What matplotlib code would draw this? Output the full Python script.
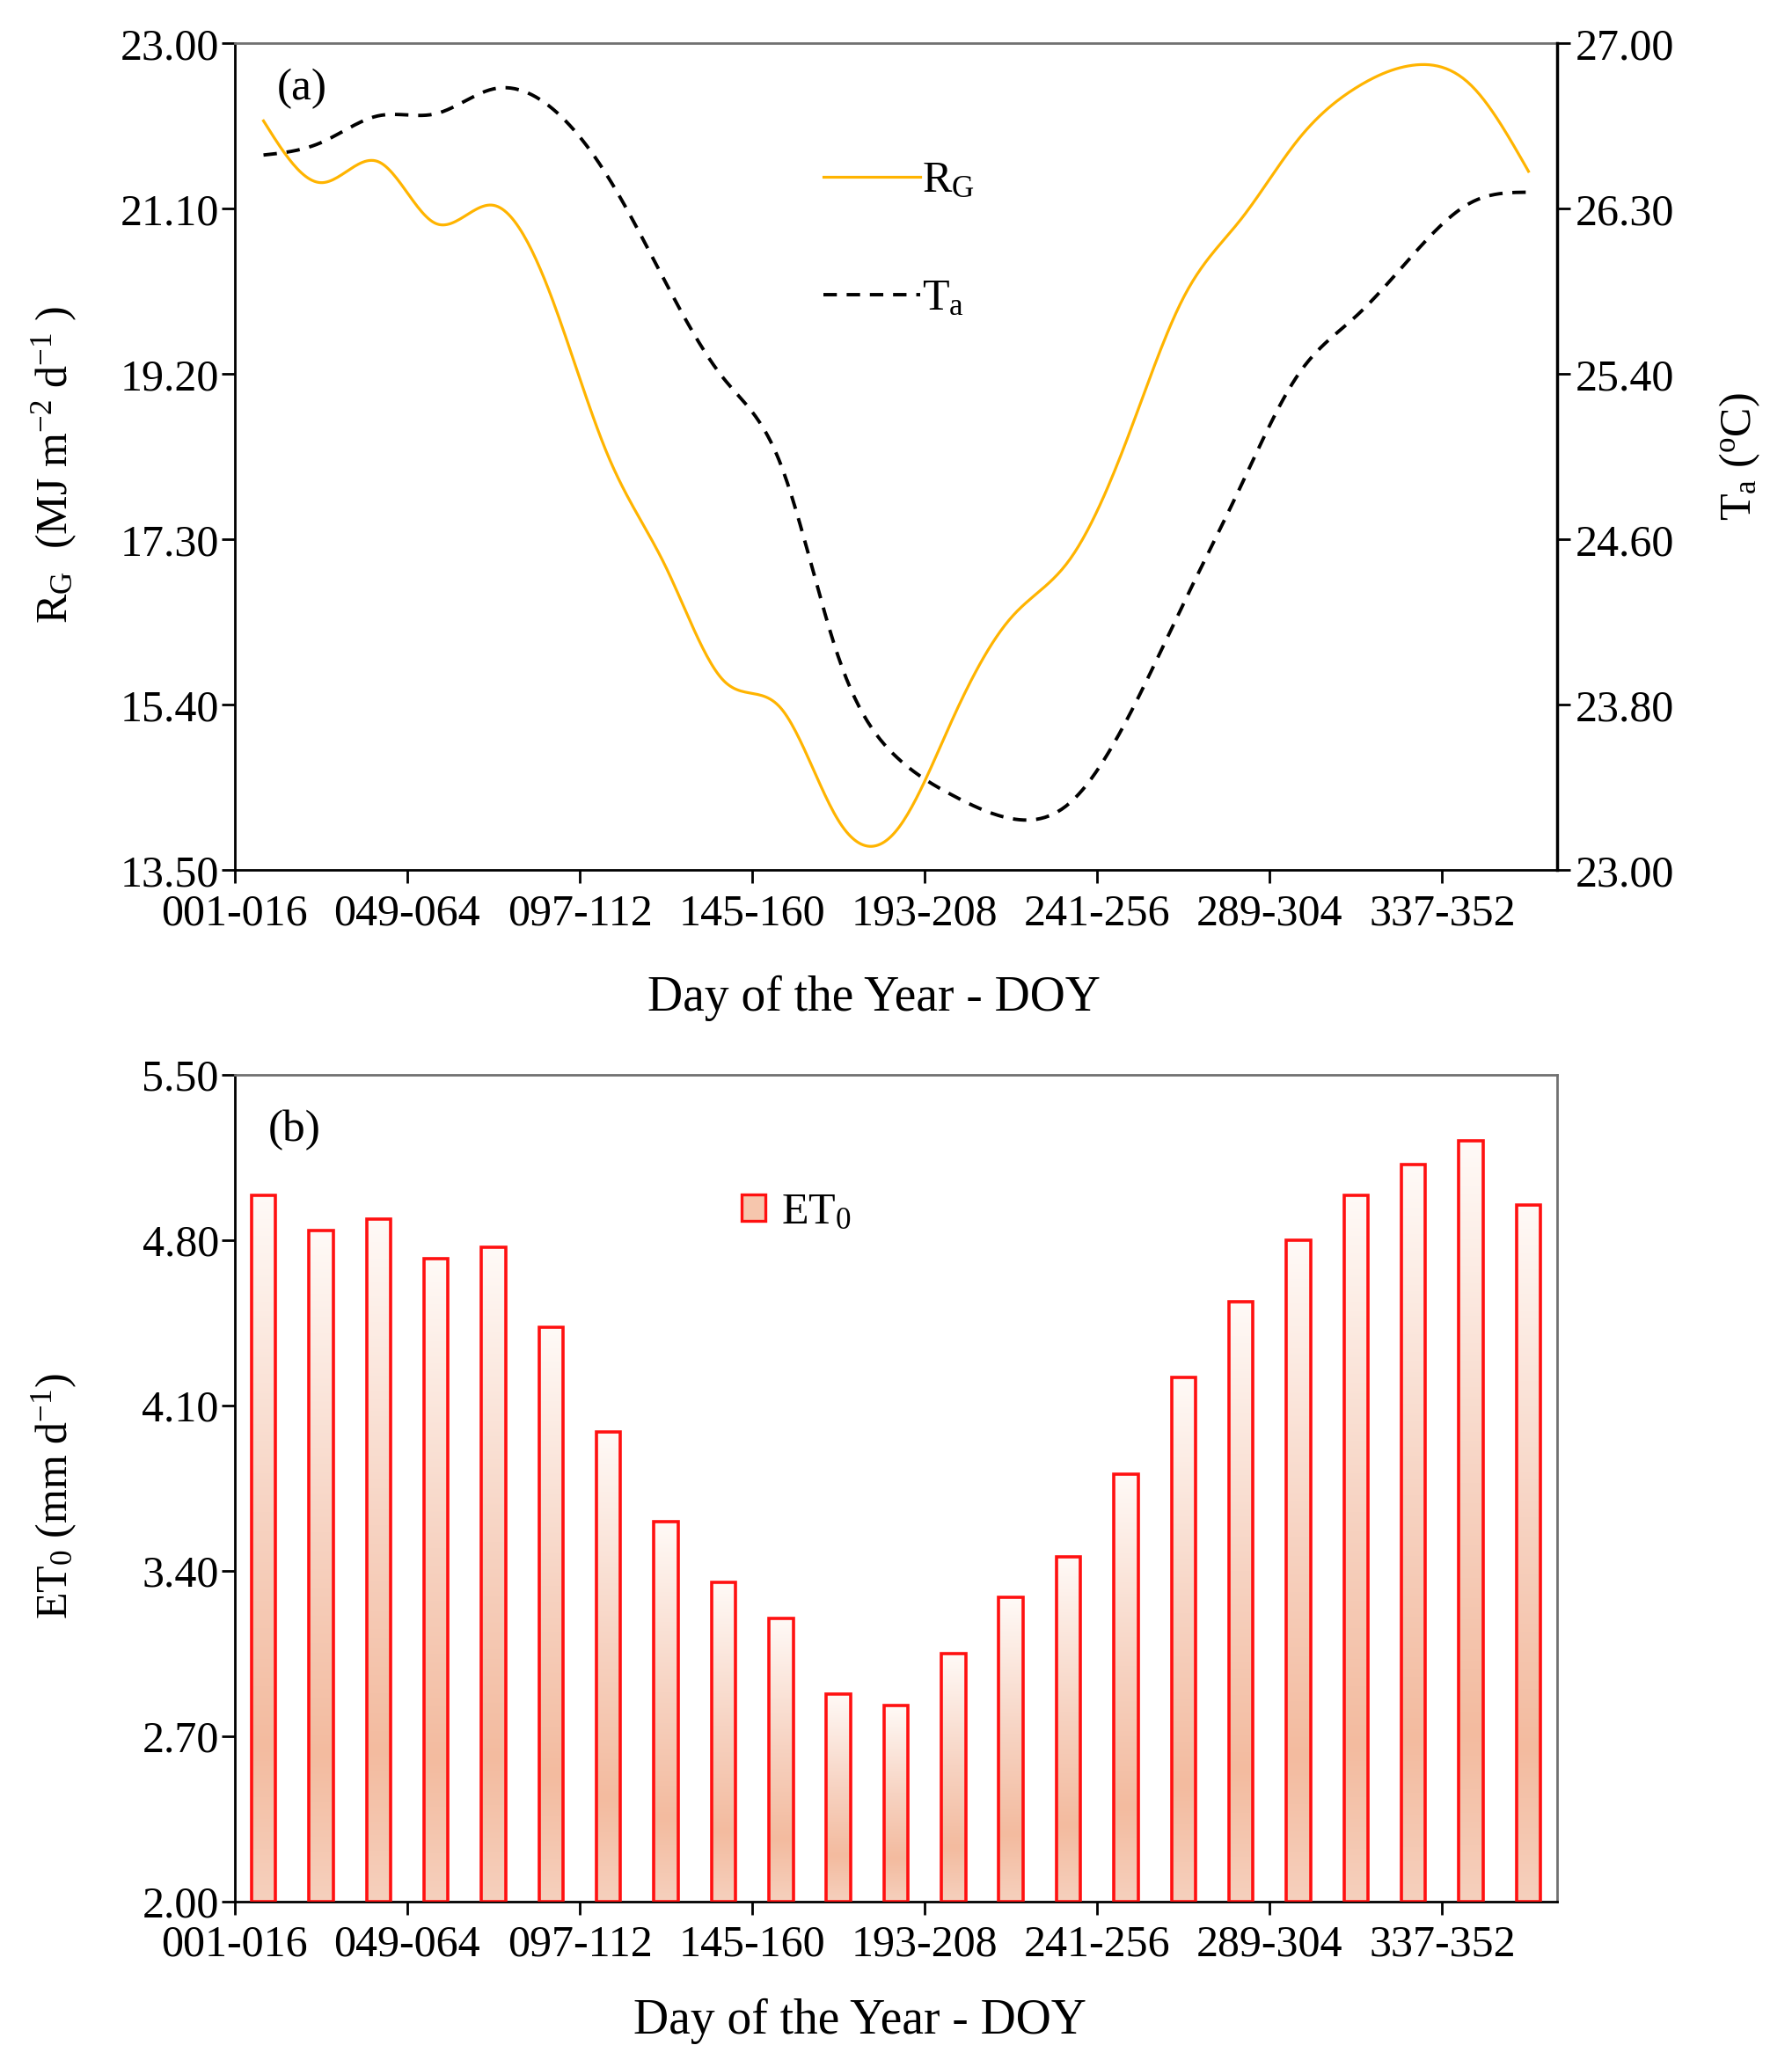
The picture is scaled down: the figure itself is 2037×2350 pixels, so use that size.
import numpy as np
import matplotlib
matplotlib.use("Agg")
import matplotlib.pyplot as plt
from matplotlib.colors import LinearSegmentedColormap
from matplotlib.lines import Line2D
from matplotlib.patches import Patch

plt.rcParams['font.family'] = 'Liberation Serif'
plt.rcParams['mathtext.fontset'] = 'custom'
plt.rcParams['mathtext.rm'] = 'Liberation Serif'
plt.rcParams['mathtext.it'] = 'Liberation Serif:italic'
plt.rcParams['lines.scale_dashes'] = False

# 16-day periods of the year
tick_labels = ['001-016', '049-064', '097-112', '145-160',
               '193-208', '241-256', '289-304', '337-352']

# global radiation (MJ m-2 d-1)
rg = [22.11, 21.40, 21.64, 20.93, 21.14, 20.10, 18.25, 16.98, 15.68, 15.36,
      14.07, 13.95, 15.26, 16.40, 17.05, 18.42, 20.08, 20.98, 21.90, 22.49,
      22.75, 22.52, 21.53]
# air temperature (C)
ta = [26.46, 26.52, 26.65, 26.66, 26.78, 26.69, 26.35, 25.84, 25.38, 24.96,
      24.03, 23.55, 23.36, 23.25, 23.32, 23.72, 24.29, 24.86, 25.40, 25.68,
      25.98, 26.23, 26.28]
# reference evapotranspiration (mm d-1)
et0 = [4.99, 4.84, 4.89, 4.72, 4.77, 4.43, 3.99, 3.61, 3.35, 3.20, 2.88,
       2.83, 3.05, 3.29, 3.46, 3.81, 4.22, 4.54, 4.80, 4.99, 5.12, 5.22, 4.95]

rg_ticks = [13.5, 15.4, 17.3, 19.2, 21.1, 23.0]
ta_ticks = [23.0, 23.8, 24.6, 25.4, 26.2, 27.0]
ta_tick_labels = ['23.00', '23.80', '24.60', '25.40', '26.30', '27.00']
et_ticks = [2.0, 2.7, 3.4, 4.1, 4.8, 5.5]

n = len(rg)
xpos = np.arange(n) + 0.5


def natural_spline(x, y, xs):
    x = np.asarray(x, float)
    y = np.asarray(y, float)
    m = len(x)
    h = np.diff(x)
    A = np.zeros((m, m))
    b = np.zeros(m)
    A[0, 0] = A[-1, -1] = 1.0
    for i in range(1, m - 1):
        A[i, i - 1] = h[i - 1]
        A[i, i] = 2 * (h[i - 1] + h[i])
        A[i, i + 1] = h[i]
        b[i] = 3 * ((y[i + 1] - y[i]) / h[i] - (y[i] - y[i - 1]) / h[i - 1])
    c = np.linalg.solve(A, b)
    bb = (y[1:] - y[:-1]) / h - h * (2 * c[:-1] + c[1:]) / 3
    d = (c[1:] - c[:-1]) / (3 * h)
    idx = np.clip(np.searchsorted(x, xs) - 1, 0, m - 2)
    dx = xs - x[idx]
    return y[idx] + bb[idx] * dx + c[idx] * dx**2 + d[idx] * dx**3


fs = 36
fig = plt.figure(figsize=(20.37, 23.5), dpi=100)

# ---------------- (a) ----------------
ax1 = fig.add_axes([0.131, 0.579, 0.738, 0.400])
ax2 = ax1.twinx()

xs = np.linspace(xpos[0], xpos[-1], 600)
ax1.plot(xs, natural_spline(xpos, rg, xs), color='#ffb400', lw=2.3)
ln_ta, = ax2.plot(xs, natural_spline(xpos, ta, xs), color='black', lw=2.8)
ln_ta.set_dashes((11, 8))

ax1.set_xlim(0, n)
ax1.set_ylim(13.5, 23.0)
ax2.set_ylim(23.0, 27.0)
ax1.set_yticks(rg_ticks)
ax1.set_yticklabels(['%.2f' % v for v in rg_ticks])
ax2.set_yticks(ta_ticks)
ax2.set_yticklabels(ta_tick_labels)

ax1.text(0.032, 0.945, '(a)', transform=ax1.transAxes, fontsize=37,
         ha='left', va='center')
ax1.text(-0.136, 0.49, 'R$_\\mathregular{G}$  (MJ m$^\\mathregular{-2}$ d$^\\mathregular{-1}$ )',
         transform=ax1.transAxes, rotation=90, fontsize=fs, ha='center', va='center')
ax2.text(1.138, 0.50, 'T$_\\mathregular{a}$ ($^\\mathregular{o}$C)',
         transform=ax1.transAxes, rotation=90, fontsize=fs, ha='center', va='center')
ax1.text(0.483, -0.155, 'Day of the Year - DOY', transform=ax1.transAxes,
         fontsize=40, ha='center', va='center')

h_rg = Line2D([], [], color='#ffb400', lw=2.3)
h_ta = Line2D([], [], color='black', lw=2.8, dashes=(11, 8))
ax2.legend([h_rg, h_ta], ['R$_\\mathregular{G}$', 'T$_\\mathregular{a}$'],
           loc='upper left', bbox_to_anchor=(0.415, 0.906), frameon=False,
           fontsize=fs, handlelength=2.2, handletextpad=0.05, labelspacing=1.75)

# ---------------- (b) ----------------
ax3 = fig.add_axes([0.131, 0.080, 0.738, 0.400])
heights = np.array(et0) - 2.0
bars = ax3.bar(xpos, heights, bottom=2.0, width=0.42, facecolor='none',
               edgecolor='#ff1010', linewidth=2.6, zorder=3)

cmap = LinearSegmentedColormap.from_list(
    'et', [(0.0, '#f6d0bd'), (0.22, '#f3bb9f'), (0.55, '#f7d3c2'), (1.0, '#fffaf7')])
grad = np.linspace(0, 1, 256).reshape(-1, 1)
for rect in bars:
    x0 = rect.get_x()
    im = ax3.imshow(grad, cmap=cmap, origin='lower', aspect='auto',
                    extent=(x0, x0 + rect.get_width(), rect.get_y(),
                            rect.get_y() + rect.get_height()), zorder=2)
    im.set_clip_path(rect)

ax3.set_xlim(0, n)
ax3.set_ylim(2.0, 5.5)
ax3.set_yticks(et_ticks)
ax3.set_yticklabels(['%.2f' % v for v in et_ticks])

ax3.text(0.025, 0.933, '(b)', transform=ax3.transAxes, fontsize=37,
         ha='left', va='center')
ax3.text(-0.136, 0.49, 'ET$_\\mathregular{0}$ (mm d$^\\mathregular{-1}$)',
         transform=ax3.transAxes, rotation=90, fontsize=fs, ha='center', va='center')
ax3.text(0.473, -0.145, 'Day of the Year - DOY', transform=ax3.transAxes,
         fontsize=40, ha='center', va='center')
ax3.legend([Patch(facecolor='#f6c6ad', edgecolor='#ff1010', linewidth=2.4)],
           ['ET$_\\mathregular{0}$'], loc='upper left', bbox_to_anchor=(0.353, 0.906),
           frameon=False, fontsize=fs, handlelength=0.55, handleheight=0.55,
           handletextpad=0.35)

# shared axis styling
for ax in (ax1, ax3):
    ax.set_xticks(np.arange(0, n - 1, 3))
    ax.set_xticklabels(tick_labels)
    ax.tick_params(axis='x', direction='out', length=11, width=2,
                   labelsize=fs, pad=8)
    ax.tick_params(axis='y', direction='out', length=11, width=2,
                   labelsize=fs, pad=2)
    ax.spines['left'].set_linewidth(2)
    ax.spines['bottom'].set_linewidth(2)
    ax.spines['top'].set_color('#707070')
    ax.spines['top'].set_linewidth(2)
    ax.spines['right'].set_color('#707070')
    ax.spines['right'].set_linewidth(2)

ax2.tick_params(axis='y', direction='out', length=11, width=2,
                labelsize=fs, pad=4)
ax2.spines['right'].set_linewidth(2.5)
ax2.spines['right'].set_color('black')
ax2.spines['top'].set_visible(False)
ax2.spines['left'].set_visible(False)
ax2.spines['bottom'].set_visible(False)

fig.savefig('out.png', dpi=100)
